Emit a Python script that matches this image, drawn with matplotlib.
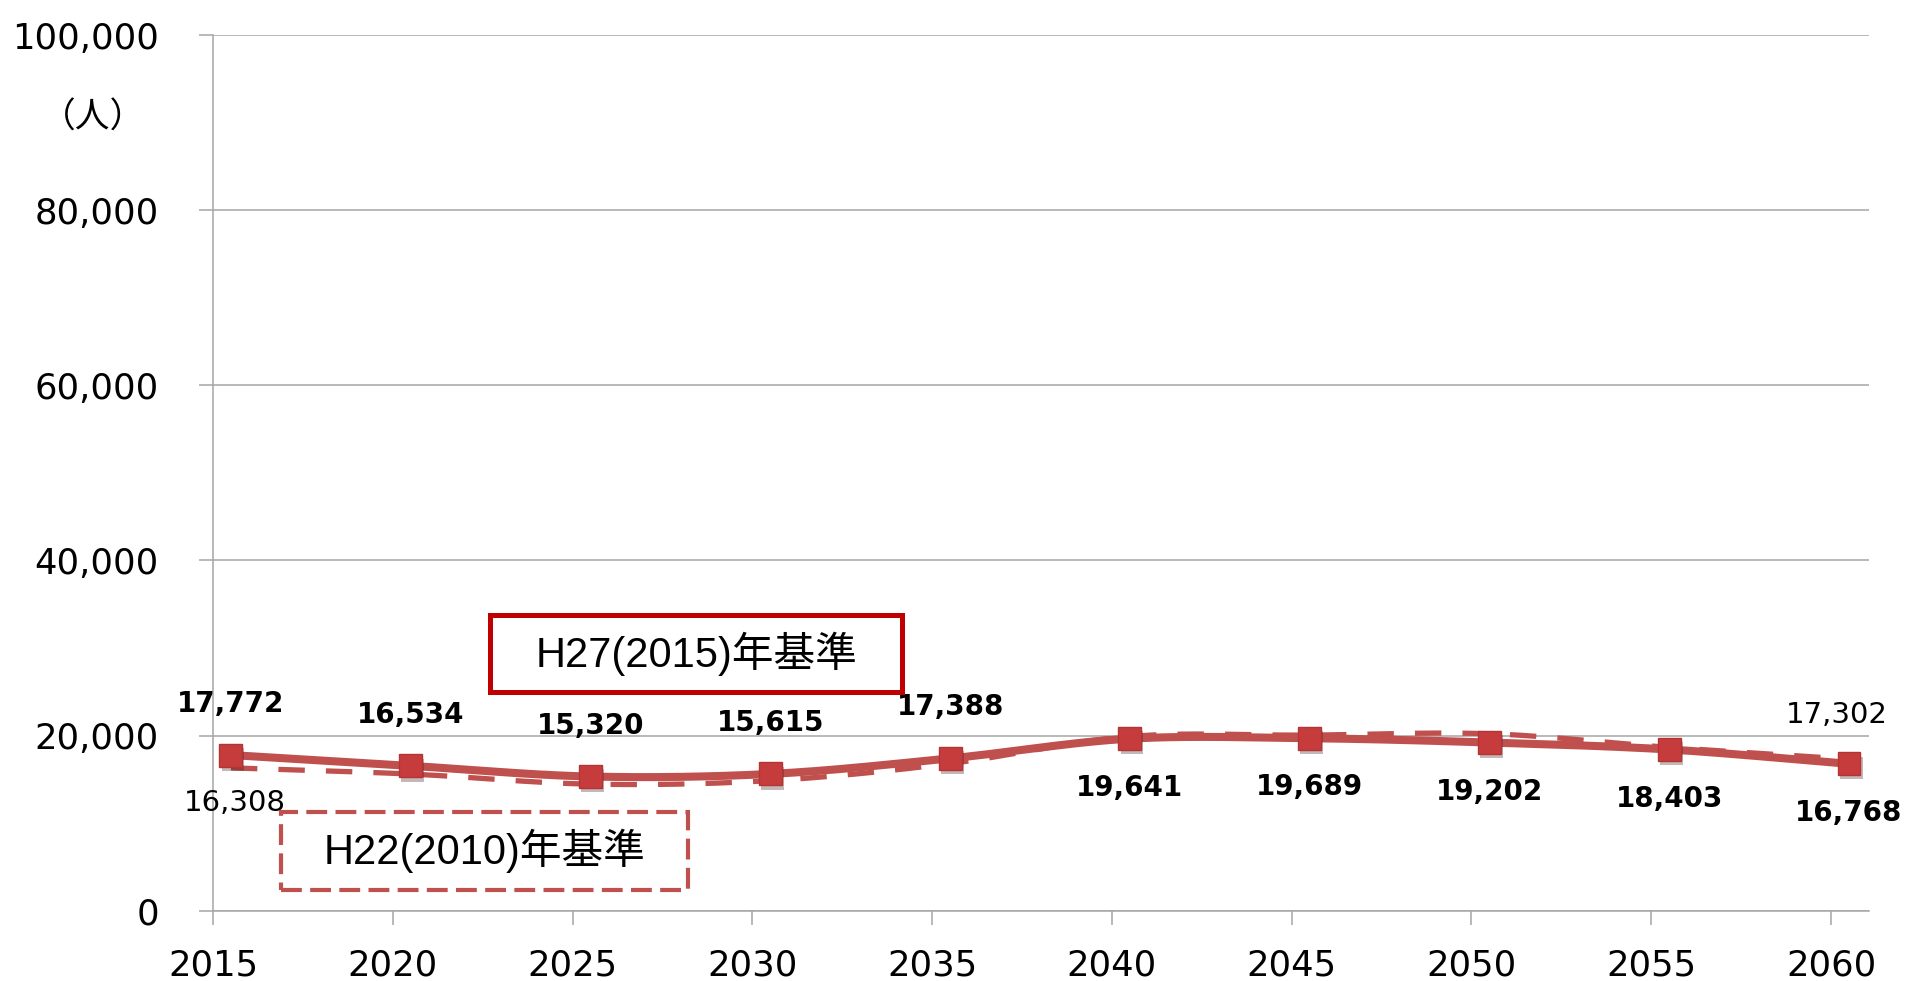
import numpy as np
import matplotlib
matplotlib.use('Agg')
import matplotlib.pyplot as plt
import matplotlib.patheffects as pe
from matplotlib.patches import Rectangle
from matplotlib.ticker import FuncFormatter

plt.rcParams['font.family'] = ['DejaVu Sans', 'Noto Sans CJK JP']

years = [2015, 2020, 2025, 2030, 2035, 2040, 2045, 2050, 2055, 2060]
# H27(2015)年基準
h27 = [17772, 16534, 15320, 15615, 17388, 19641, 19689, 19202, 18403, 16768]
# H22(2010)年基準 (only the end values are labelled, the rest)
h22 = [16308, 15600, 14450, 14850, 16800, 19900, 20050, 20200, 18650, 17302]

line_red = '#C0504D'
box_red = '#C00000'
grid_gray = '#A6A6A6'


def smooth(xs, ys, n=24):
    # catmull-rom, close to excel's "smoothed line"
    xs = np.asarray(xs, float)
    ys = np.asarray(ys, float)
    px = np.concatenate([[2 * xs[0] - xs[1]], xs, [2 * xs[-1] - xs[-2]]])
    py = np.concatenate([[2 * ys[0] - ys[1]], ys, [2 * ys[-1] - ys[-2]]])
    t = np.linspace(0, 1, n, endpoint=False)
    outx, outy = [], []
    for i in range(1, len(px) - 2):
        for p, out in ((px, outx), (py, outy)):
            p0, p1, p2, p3 = p[i - 1], p[i], p[i + 1], p[i + 2]
            out.extend(0.5 * (2 * p1 + (-p0 + p2) * t
                              + (2 * p0 - 5 * p1 + 4 * p2 - p3) * t ** 2
                              + (-p0 + 3 * p1 - 3 * p2 + p3) * t ** 3))
    outx.append(xs[-1])
    outy.append(ys[-1])
    return np.array(outx), np.array(outy)


fig = plt.figure(figsize=(19.05, 9.81), dpi=100)
ax = fig.add_axes([0.1118, 0.0717, 0.8692, 0.8926])

xpos = np.array(years) + 0.5

sx, sy = smooth(xpos, h22)
ax.plot(sx, sy, color=line_red, lw=3.8, dashes=(5, 4), zorder=3)

sx, sy = smooth(xpos, h27)
ax.plot(sx, sy, color=line_red, lw=5.8, solid_capstyle='butt', zorder=4)
ax.plot(xpos, h27, ls='none', marker='s', ms=16.5, mfc='#C63C3C', mec='#B23434', mew=1,
        zorder=5, path_effects=[pe.SimplePatchShadow(offset=(1.5, -3), alpha=0.3), pe.Normal()])

# data labels
for i, (x, v) in enumerate(zip(xpos, h27)):
    dy = 51 if i < 5 else -49
    ax.annotate(f'{v:,}', (x, v), xytext=(0, dy), textcoords='offset pixels',
                ha='center', va='center', fontsize=20, fontweight='bold', zorder=6)
ax.annotate(f'{h22[0]:,}', (xpos[0], h22[0]), xytext=(4, -35), textcoords='offset pixels',
            ha='center', va='center', fontsize=21, zorder=6)
ax.annotate(f'{h22[-1]:,}', (xpos[-1], h22[-1]), xytext=(-12, 44), textcoords='offset pixels',
            ha='center', va='center', fontsize=21, zorder=6)

ax.set_xlim(2015, 2061.05)
ax.set_ylim(0, 100000)
ax.set_xticks(years)
ax.set_yticks(range(0, 100001, 20000))
ax.yaxis.set_major_formatter(FuncFormatter(lambda v, p: f'{int(v):,}'))
ax.grid(axis='y', color=grid_gray, lw=1.1)
ax.set_axisbelow(True)
for s in ['top', 'right']:
    ax.spines[s].set_visible(False)
for s in ['left', 'bottom']:
    ax.spines[s].set_color(grid_gray)
    ax.spines[s].set_linewidth(1.1)
ax.tick_params(axis='y', length=10, width=1.1, color=grid_gray, pad=29, labelsize=25.5)
ax.tick_params(axis='x', length=10, width=1.1, color=grid_gray, pad=17, labelsize=25.5)

fig.text(0.0488, 0.8797, '（人）', fontsize=25, family=['Noto Sans CJK JP'],
         ha='center', va='center')

# series name boxes
box_font = ['Liberation Sans', 'Noto Sans CJK JP']
fig.patches.append(Rectangle((0.2572, 0.2946), 0.2163, 0.0785, transform=fig.transFigure,
                             fill=False, ec=box_red, lw=3.6))
fig.text(0.3654, 0.3333, 'H27(2015)年基準', fontsize=30, family=box_font,
         ha='center', va='center')
fig.patches.append(Rectangle((0.1475, 0.0928), 0.2137, 0.0795, transform=fig.transFigure,
                             fill=False, ec=line_red, lw=3, ls=(0, (5, 2))))
fig.text(0.2541, 0.1325, 'H22(2010)年基準', fontsize=30, family=box_font,
         ha='center', va='center')

fig.savefig('out.png', dpi=100)
